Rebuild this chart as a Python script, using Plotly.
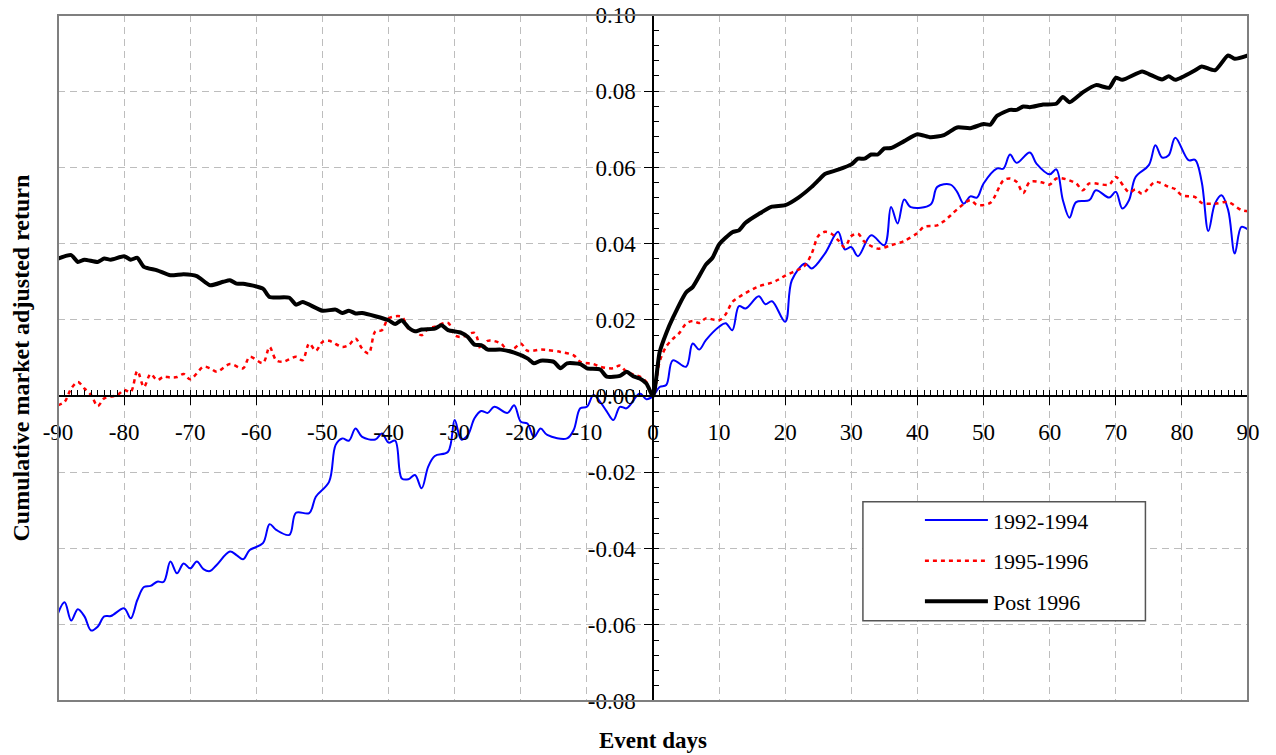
import plotly.graph_objects as go

# ---- Data ----
days_9294 = [-90,-89,-88,-87,-86,-85,-84,-83,-82,-80,-79,-78,-77,-76,-75,-74,-73,-72,-71,-70,-69,-68,-67,-66,-64,-63,-62,-61,-59,-58,-57,-55,-54,-52,-51,-49,-48,-47,-46,-45,-44,-42,-41,-40,-39,-38,-37,-36,-35,-34,-33,-31,-30,-29,-28,-27,-26,-25,-24,-22,-21,-20,-19,-18,-17,-16,-13,-12,-11,-10,-9,-8,-7,-6,-5,-4,-2,-1,0,
             1,2,3,5,6,7,8,10,11,12,13,14,16,17,18,20,21,23,24,26,28,29,30,31,33,35,36,37,38,39,42,43,45,46,47,48,49,50,52,53,54,55,57,58,60,61,62,63,64,66,67,69,70,71,72,73,75,76,77,78,79,81,82,83,84,85,86,87,88,89,90]
car_9294 = [-0.0570,-0.0541,-0.0589,-0.0559,-0.0578,-0.0615,-0.0605,-0.0578,-0.0577,-0.0557,-0.0583,-0.0535,-0.0501,-0.0498,-0.0487,-0.0487,-0.0434,-0.0465,-0.0439,-0.0452,-0.0434,-0.0454,-0.0459,-0.0443,-0.0408,-0.0417,-0.0428,-0.0404,-0.0386,-0.0336,-0.0351,-0.0364,-0.0306,-0.0307,-0.0264,-0.0225,-0.0128,-0.0111,-0.0117,-0.0085,-0.0107,-0.0114,-0.0098,-0.0122,-0.0117,-0.0216,-0.0218,-0.0207,-0.0242,-0.0185,-0.0157,-0.0146,-0.0063,-0.0114,-0.0102,-0.0058,-0.0039,-0.0044,-0.0028,-0.0044,-0.0024,-0.0067,-0.0072,-0.0107,-0.0085,-0.0102,-0.0111,-0.0089,-0.0032,-0.0028,0.0003,-0.0015,-0.0040,-0.0063,-0.0028,-0.0032,0.0007,-0.0008,0.0,
            0.0024,0.0029,0.0094,0.0077,0.0138,0.0122,0.0147,0.0182,0.0191,0.0173,0.0236,0.0230,0.0262,0.0241,0.0249,0.0195,0.0304,0.0348,0.0335,0.0374,0.0431,0.0385,0.0391,0.0367,0.0422,0.0396,0.0496,0.0453,0.0516,0.0496,0.0503,0.0549,0.0555,0.0536,0.0505,0.0524,0.0521,0.0558,0.0597,0.0597,0.0634,0.0612,0.0639,0.0610,0.0582,0.0595,0.0514,0.0468,0.0509,0.0514,0.0540,0.0521,0.0536,0.0492,0.0514,0.0575,0.0606,0.0658,0.0626,0.0632,0.0678,0.0619,0.0620,0.0562,0.0433,0.0505,0.0527,0.0488,0.0374,0.0444,0.0437]

days_9596 = [-90,-89,-88,-87,-86,-85,-84,-83,-81,-80,-79,-78,-77,-76,-75,-74,-73,-72,-71,-70,-68,-67,-66,-64,-62,-61,-59,-58,-57,-56,-54,-53,-52,-51,-50,-49,-47,-46,-45,-44,-43,-42,-41,-40,-38,-37,-36,-35,-34,-33,-31,-30,-29,-27,-26,-25,-23,-22,-21,-20,-19,-17,-16,-14,-12,-11,-9,-8,-6,-5,-4,-2,-1,0,
             1,2,3,4,5,6,7,8,10,11,12,13,15,16,18,19,20,22,23,24,25,26,27,28,29,30,31,32,34,36,38,40,41,43,44,45,46,48,49,51,53,54,55,56,57,59,60,61,62,64,65,66,69,70,72,73,74,76,78,79,80,82,83,85,87,89,90]
car_9596 = [-0.0024,-0.0015,0.0020,0.0037,0.0020,0.0003,-0.0026,-0.0006,0.0003,0.0016,0.0011,0.0066,0.0024,0.0058,0.0042,0.0051,0.0049,0.0050,0.0058,0.0044,0.0077,0.0073,0.0064,0.0084,0.0073,0.0103,0.0087,0.0129,0.0094,0.0090,0.0103,0.0094,0.0138,0.0119,0.0142,0.0145,0.0129,0.0134,0.0151,0.0125,0.0112,0.0170,0.0173,0.0204,0.0208,0.0177,0.0169,0.0160,0.0177,0.0182,0.0192,0.0160,0.0155,0.0166,0.0122,0.0145,0.0138,0.0119,0.0125,0.0138,0.0119,0.0122,0.0121,0.0116,0.0107,0.0090,0.0084,0.0077,0.0073,0.0080,0.0064,0.0051,0.0037,0.0,
            0.0090,0.0130,0.0150,0.0166,0.0190,0.0197,0.0192,0.0204,0.0199,0.0215,0.0247,0.0260,0.0280,0.0288,0.0298,0.0306,0.0316,0.0332,0.0343,0.0374,0.0420,0.0431,0.0426,0.0409,0.0391,0.0420,0.0426,0.0405,0.0387,0.0396,0.0407,0.0428,0.0444,0.0448,0.0459,0.0474,0.0490,0.0514,0.0502,0.0507,0.0566,0.0571,0.0562,0.0533,0.0562,0.0560,0.0555,0.0571,0.0571,0.0558,0.0540,0.0558,0.0555,0.0575,0.0535,0.0542,0.0531,0.0562,0.0549,0.0543,0.0527,0.0522,0.0507,0.0505,0.0509,0.0488,0.0485]

days_post96 = [-90,-88,-87,-86,-84,-83,-82,-80,-79,-78,-77,-75,-73,-71,-69,-67,-65,-64,-63,-62,-59,-58,-55,-54,-53,-50,-48,-47,-46,-45,-44,-40,-39,-38,-37,-36,-35,-33,-32,-31,-29,-28,-27,-26,-25,-23,-21,-19,-18,-17,-15,-14,-13,-11,-10,-8,-7,-5,-4,-3,-2,-1,0,
               1,2,3,5,6,8,9,10,12,13,14,16,18,20,22,24,25,26,28,30,31,32,33,34,35,36,38,40,42,44,46,48,50,51,52,54,55,56,57,59,61,62,63,65,67,69,70,71,74,75,77,78,79,82,83,85,87,88,90]
car_post96 = [0.0361,0.0370,0.0352,0.0358,0.0352,0.0361,0.0358,0.0367,0.0358,0.0363,0.0339,0.0330,0.0317,0.0320,0.0315,0.0291,0.0300,0.0304,0.0295,0.0295,0.0282,0.0260,0.0258,0.0240,0.0247,0.0224,0.0227,0.0218,0.0224,0.0217,0.0218,0.0199,0.0189,0.0199,0.0180,0.0170,0.0175,0.0177,0.0186,0.0173,0.0166,0.0155,0.0135,0.0134,0.0122,0.0122,0.0114,0.0099,0.0086,0.0093,0.0090,0.0073,0.0086,0.0084,0.0073,0.0070,0.0051,0.0053,0.0064,0.0052,0.0046,0.0033,0.0,
              0.0115,0.0165,0.0205,0.0272,0.0286,0.0345,0.0363,0.0398,0.0430,0.0435,0.0455,0.0478,0.0497,0.0501,0.0521,0.0549,0.0566,0.0583,0.0594,0.0608,0.0623,0.0623,0.0634,0.0634,0.0650,0.0651,0.0669,0.0687,0.0679,0.0685,0.0705,0.0703,0.0714,0.0712,0.0735,0.0751,0.0751,0.0760,0.0758,0.0765,0.0767,0.0785,0.0771,0.0797,0.0816,0.0809,0.0835,0.0830,0.0852,0.0845,0.0831,0.0839,0.0830,0.0855,0.0865,0.0855,0.0894,0.0885,0.0894]

series_names = ["1992-1994", "1995-1996", "Post 1996"]
x_ticks = list(range(-90, 91, 10))
y_ticks = [-0.08, -0.06, -0.04, -0.02, 0.0, 0.02, 0.04, 0.06, 0.08, 0.10]
y_tick_labels = ["-0.08", "-0.06", "-0.04", "-0.02", "0.00", "0.02", "0.04", "0.06", "0.08", "0.10"]

FONT = "Times New Roman, Liberation Serif, serif"

fig = go.Figure()
fig.add_trace(go.Scatter(x=days_9294, y=car_9294, name=series_names[0], mode="lines",
                         line=dict(color="#0000ff", width=2, shape="spline", smoothing=1.0),
                         legendgroup="a"))
fig.add_trace(go.Scatter(x=days_9596, y=car_9596, name=series_names[1], mode="lines",
                         line=dict(color="#ff0000", width=2.5, dash="4px,4px", shape="spline", smoothing=0.9),
                         legendgroup="b"))
fig.add_trace(go.Scatter(x=days_post96, y=car_post96, name=series_names[2], mode="lines",
                         line=dict(color="#000000", width=4, shape="spline", smoothing=0.6),
                         legendgroup="c"))

y0_frac = 0.08 / 0.18

fig.update_layout(
    width=1276, height=755, autosize=False,
    margin=dict(l=58, r=28, t=15, b=54, pad=0, autoexpand=False),
    paper_bgcolor="white", plot_bgcolor="white",
    font=dict(family=FONT, size=22, color="black"),
    showlegend=True,
    legend=dict(x=0.7243, y=0.294, xanchor="left", yanchor="top",
                bgcolor="rgba(0,0,0,0)", borderwidth=0,
                font=dict(family=FONT, size=22, color="black"),
                itemwidth=63, tracegroupgap=9),
    xaxis=dict(range=[-90, 90], tickvals=x_ticks, ticktext=[str(v) for v in x_ticks],
               showgrid=True, gridcolor="#bdbdbd", gridwidth=1, griddash="7px,5px",
               zeroline=False, showline=True, linecolor="black", linewidth=1.5,
               ticks="outside", ticklen=8, tickcolor="black", tickwidth=1,
               anchor="free", position=y0_frac, ticklabelstandoff=8, automargin=False,
               minor=dict(dtick=1, ticks="inside", ticklen=5, tickcolor="black", tickwidth=1, showgrid=False),
               tickfont=dict(family=FONT, size=23, color="black")),
    yaxis=dict(range=[-0.08, 0.10], tickvals=y_ticks, ticktext=y_tick_labels,
               showgrid=True, gridcolor="#bdbdbd", gridwidth=1, griddash="7px,5px",
               zeroline=False, showline=True, linecolor="black", linewidth=1.5,
               ticks="outside", ticklen=8, tickcolor="black", tickwidth=1,
               anchor="free", position=0.5, ticklabelstandoff=4, automargin=False,
               minor=dict(dtick=0.004, ticks="inside", ticklen=5, tickcolor="black", tickwidth=1, showgrid=False),
               tickfont=dict(family=FONT, size=23, color="black")),
    shapes=[
        dict(type="rect", xref="paper", yref="paper", x0=0, x1=1, y0=0, y1=1,
             line=dict(color="#7f7f7f", width=2), layer="above"),
        dict(type="rect", xref="paper", yref="paper", x0=0.6764, x1=0.9138, y0=0.117, y1=0.2904,
             line=dict(color="#555555", width=1.5), fillcolor="white", layer="above"),
    ],
    annotations=[
        dict(text="<b>Event days</b>", xref="paper", yref="paper", x=0.5, y=-0.058,
             xanchor="center", yanchor="middle", showarrow=False,
             font=dict(family=FONT, size=23, color="black")),
        dict(text="<b>Cumulative market adjusted return</b>", xref="paper", yref="paper",
             x=-0.0315, y=0.5, xanchor="center", yanchor="middle", textangle=-90, showarrow=False,
             font=dict(family=FONT, size=24, color="black")),
    ],
)

fig.write_html("out.html")
